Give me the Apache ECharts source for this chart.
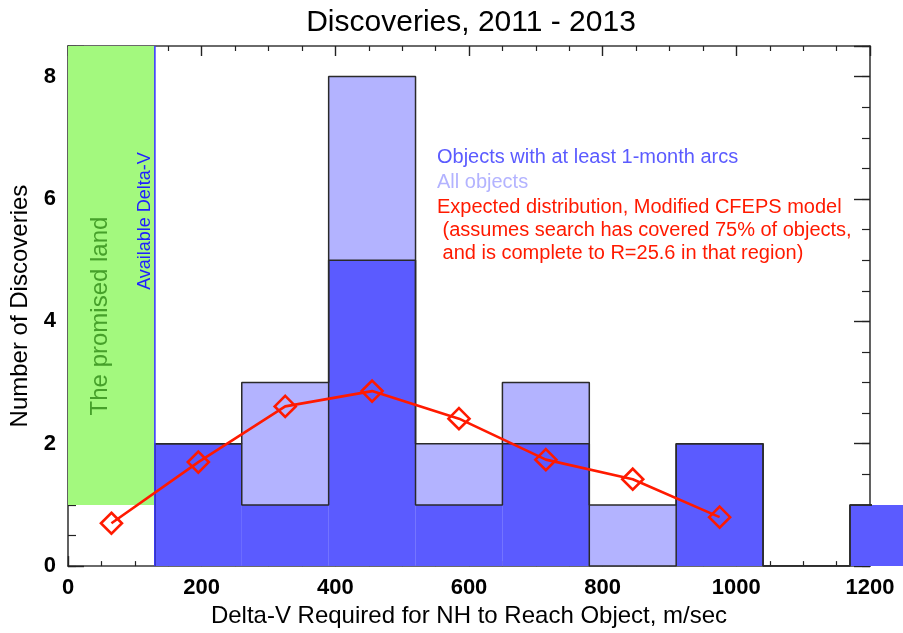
<!DOCTYPE html>
<html>
<head>
<meta charset="utf-8">
<script src="https://cdn.jsdelivr.net/npm/echarts@6/dist/echarts.min.js"></script>
<style>
html,body{margin:0;padding:0;background:#fff;}
#chart{width:903px;height:633px;}
</style>
</head>
<body>
<div id="chart"></div>
<script>
// ---- data ----
const binStart = [130, 260, 390, 520, 650, 780, 910, 1040, 1170];
const binEnd   = [260, 390, 520, 650, 780, 910, 1040, 1170, 1300];
const arcCounts = [2, 1, 5, 1, 2, 0, 2, 0, 1];      // Objects with at least 1-month arcs
const allCounts = [2, 3, 8, 2, 3, 1, 2, 0, 1];      // All objects
const expectedX = [65, 195, 325, 455, 585, 715, 845, 975];
const expectedY = [0.70, 1.70, 2.61, 2.86, 2.41, 1.74, 1.42, 0.80];
const availableDeltaV = 130;
const promisedX = [0, 130];
const promisedY = [1, 8.5];
const xTicks = [0, 200, 400, 600, 800, 1000, 1200];
const yTicks = [0, 2, 4, 6, 8];

const FONT = '"Liberation Sans", Arial, Helvetica, sans-serif';
const AXC = '#3a3a3a';

function barData(counts) {
  return counts.map((c, i) => [binStart[i], binEnd[i], c]);
}
function stepPoints(counts) {
  const pts = [[binStart[0], 0]];
  counts.forEach((c, i) => { pts.push([binStart[i], c]); pts.push([binEnd[i], c]); });
  return pts;
}
function rectItem(color) {
  return function (params, api) {
    const p0 = api.coord([api.value(0), api.value(2)]);
    const p1 = api.coord([api.value(1), api.value(3) || 0]);
    return {
      type: 'rect',
      shape: { x: p0[0], y: p0[1], width: p1[0] - p0[0], height: p1[1] - p0[1] },
      style: { fill: color, lineWidth: 0 }
    };
  };
}

const chart = echarts.init(document.getElementById('chart'), null, { renderer: 'canvas' });

function xAx(pos, labels) {
  return {
    type: 'value', position: pos, min: xTicks[0], max: xTicks[xTicks.length - 1], interval: 200,
    axisLine: { show: true, onZero: false, lineStyle: { color: AXC, width: 1.6 } },
    axisTick: { show: true, inside: true, length: 10, lineStyle: { color: '#222', width: 1.4 } },
    minorTick: { show: true, splitNumber: 4, length: 5, lineStyle: { color: '#222', width: 1.2 } },
    splitLine: { show: false }, minorSplitLine: { show: false },
    axisLabel: {
      show: labels, margin: 11, color: '#000', fontSize: 22, fontWeight: 'bold', fontFamily: FONT,
      formatter: v => (xTicks.indexOf(v) >= 0 ? String(v) : '')
    },
    name: labels ? 'Delta-V Required for NH to Reach Object, m/sec' : '',
    nameLocation: 'middle', nameGap: 37,
    nameTextStyle: { color: '#000', fontSize: 24, fontFamily: FONT }
  };
}
function yMajor(pos, labels) {
  return {
    type: 'value', position: pos, min: 0, max: 8.5, interval: 2,
    axisLine: { show: true, onZero: false, lineStyle: { color: AXC, width: 1.6 } },
    axisTick: { show: true, inside: true, length: 16, lineStyle: { color: '#222', width: 1.4 } },
    splitLine: { show: false },
    axisLabel: {
      show: labels, margin: 12, color: '#000', fontSize: 22, fontWeight: 'bold', fontFamily: FONT,
      formatter: v => (yTicks.indexOf(v) >= 0 ? String(v) : '')
    },
    name: labels ? 'Number of Discoveries' : '',
    nameLocation: 'middle', nameGap: 36, nameRotate: 90,
    nameTextStyle: { color: '#000', fontSize: 24, fontFamily: FONT }
  };
}
function yMinor(pos) {
  return {
    type: 'value', position: pos, min: 0, max: 8.5, interval: 0.5,
    axisLine: { show: false, onZero: false },
    axisTick: { show: true, inside: true, length: 8, lineStyle: { color: '#222', width: 1.2 } },
    splitLine: { show: false },
    axisLabel: { show: false }
  };
}

const option = {
  animation: false,
  backgroundColor: '#fff',
  title: {
    text: 'Discoveries, 2011 - 2013',
    left: 466, top: 3, textAlign: 'center',
    textStyle: { color: '#000', fontSize: 30, fontWeight: 'normal', fontFamily: FONT }
  },
  grid: { left: 68, right: 33, top: 46, bottom: 64, containLabel: false },
  xAxis: [xAx('bottom', true), xAx('top', false)],
  yAxis: [yMajor('left', true), yMinor('left'), yMajor('right', false), yMinor('right')],
  series: [
    {
      name: 'The promised land', type: 'custom', xAxisIndex: 0, yAxisIndex: 0, z: 1,
      encode: { x: [0, 1], y: [2, 3] },
      data: [[promisedX[0], promisedX[1], promisedY[1], promisedY[0]]],
      renderItem: rectItem('#a3f97e'), silent: true
    },
    {
      name: 'All objects', type: 'custom', xAxisIndex: 0, yAxisIndex: 0, z: 2, clip: false,
      encode: { x: [0, 1], y: 2 },
      data: barData(allCounts), renderItem: rectItem('#b3b3ff')
    },
    {
      name: 'Objects with at least 1-month arcs', type: 'custom', xAxisIndex: 0, yAxisIndex: 0, z: 3, clip: false,
      encode: { x: [0, 1], y: 2 },
      data: barData(arcCounts), renderItem: rectItem('#5b5bff')
    },
    {
      name: 'All outline', type: 'line', xAxisIndex: 0, yAxisIndex: 0, z: 4,
      data: stepPoints(allCounts), symbol: 'none', silent: true,
      lineStyle: { color: '#2a2a2a', width: 1.5 }
    },
    {
      name: 'Arc outline', type: 'line', xAxisIndex: 0, yAxisIndex: 0, z: 4,
      data: stepPoints(arcCounts), symbol: 'none', silent: true,
      lineStyle: { color: '#2a2a2a', width: 1.5 }
    },
    {
      name: 'Available Delta-V', type: 'line', xAxisIndex: 0, yAxisIndex: 0, z: 5,
      data: [[availableDeltaV, 0], [availableDeltaV, 8.5]], symbol: 'none', silent: true,
      lineStyle: { color: '#3b3bff', width: 1.6 }
    },
    {
      name: 'Expected distribution', type: 'line', xAxisIndex: 0, yAxisIndex: 0, z: 6,
      data: expectedX.map((x, i) => [x, expectedY[i]]),
      symbol: 'diamond', symbolSize: 21, showSymbol: true,
      itemStyle: { color: 'rgba(0,0,0,0)', borderColor: '#ff1a00', borderWidth: 2.6 },
      lineStyle: { color: '#ff1a00', width: 2.6 }
    }
  ],
  graphic: [
    {
      type: 'text', x: 100, y: 316, rotation: Math.PI / 2, z: 10,
      style: { text: 'The promised land', fill: '#46a02a', font: '24px ' + FONT, align: 'center', verticalAlign: 'middle' }
    },
    {
      type: 'text', x: 145, y: 221, rotation: Math.PI / 2, z: 10,
      style: { text: 'Available Delta-V', fill: '#2020ff', font: '18px ' + FONT, align: 'center', verticalAlign: 'middle' }
    },
    { type: 'text', x: 437, y: 157, z: 10, style: { text: 'Objects with at least 1-month arcs', fill: '#5b5bff', font: '20px ' + FONT, verticalAlign: 'middle' } },
    { type: 'text', x: 437, y: 182, z: 10, style: { text: 'All objects', fill: '#b3b3ff', font: '20px ' + FONT, verticalAlign: 'middle' } },
    { type: 'text', x: 437, y: 207, z: 10, style: { text: 'Expected distribution, Modified CFEPS model', fill: '#ff1a00', font: '20px ' + FONT, verticalAlign: 'middle' } },
    { type: 'text', x: 437, y: 230, z: 10, style: { text: ' (assumes search has covered 75% of objects,', fill: '#ff1a00', font: '20px ' + FONT, verticalAlign: 'middle' } },
    { type: 'text', x: 437, y: 253, z: 10, style: { text: ' and is complete to R=25.6 in that region)', fill: '#ff1a00', font: '20px ' + FONT, verticalAlign: 'middle' } }
  ]
};
chart.setOption(option);
</script>
</body>
</html>
